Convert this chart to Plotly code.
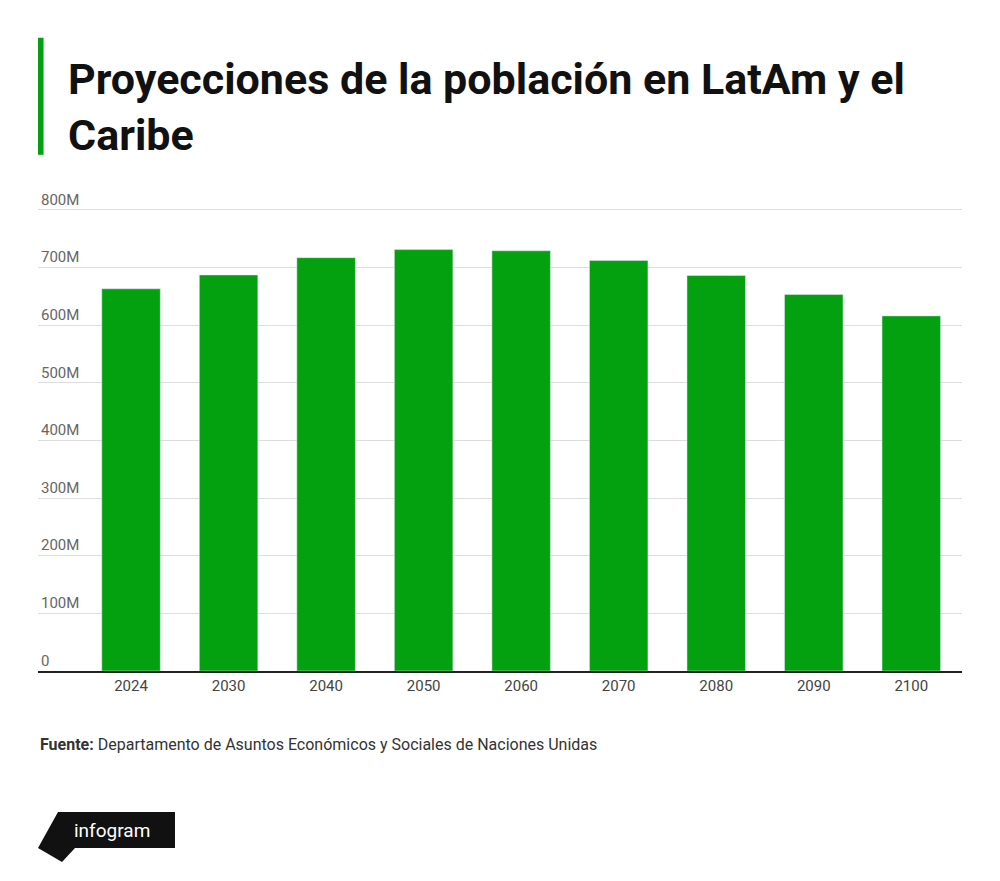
import plotly.graph_objects as go

years = ["2024","2030","2040","2050","2060","2070","2080","2090","2100"]
population = [663, 687, 717, 731, 729, 712, 686, 653, 616]  # millions
ytick_vals = [0,100,200,300,400,500,600,700,800]
ytick_text = ["0","100M","200M","300M","400M","500M","600M","700M","800M"]

YMAX = 850
H = 461 * YMAX / 800
W = 924
fig = go.Figure(go.Bar(x=years, y=population, marker_color="#03a10f", width=0.6))
fig.update_layout(
    width=992, height=873, margin=dict(l=30, r=38, t=873 - 210 - H, b=210),
    paper_bgcolor="white", plot_bgcolor="white", showlegend=False,
    font=dict(family="Roboto", color="#555"),
    xaxis=dict(range=[-0.954, 8.52], showline=True, linecolor="#222", linewidth=2,
               ticks="", tickfont=dict(size=15, color="#444")),
    yaxis=dict(range=[0, YMAX], tickvals=ytick_vals, ticktext=ytick_text,
               ticklabelposition="inside top", gridcolor="#ddd", zeroline=False,
               tickfont=dict(size=15, color="#666")),
)
def py(p):
    return (671 - p) / H
fig.add_shape(type="rect", xref="paper", yref="paper", x0=0, x1=0.006,
              y0=py(155), y1=py(38), fillcolor="#03a10f", line_width=0)
fig.add_annotation(xref="paper", yref="paper", x=(66-38)/W, y=py(52),
                   xanchor="left", yanchor="top", align="left", showarrow=False,
                   text="<b>Proyecciones de la población en LatAm y el<br>Caribe</b>",
                   font=dict(family="Roboto", size=43, color="#111"))
fig.add_annotation(xref="paper", yref="paper", x=0, y=py(744),
                   xanchor="left", yanchor="middle", showarrow=False,
                   text="<b>Fuente:</b> Departamento de Asuntos Económicos y Sociales de Naciones Unidas",
                   font=dict(family="Roboto", size=16, color="#333"))
fig.add_shape(type="path", xref="paper", yref="paper",
              path="M %f %f L %f %f L %f %f L %f %f L %f %f L %f %f Z" % (
                  (58-38)/W, py(812), (175-38)/W, py(812),
                  (175-38)/W, py(848), (75-38)/W, py(848),
                  (62-38)/W, py(862), 0, py(848)),
              fillcolor="#111", line_width=0)
fig.add_annotation(xref="paper", yref="paper", x=(112-38)/W, y=py(830),
                   xanchor="center", yanchor="middle", showarrow=False, text="infogram",
                   font=dict(family="Roboto", size=19, color="white"))
fig.write_html("out.html")
